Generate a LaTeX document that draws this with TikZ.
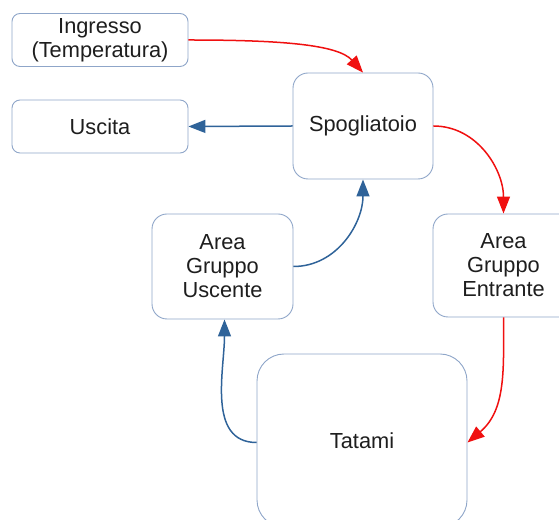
\documentclass[tikz,border=0pt]{standalone}
\usepackage{fontspec}
\setmainfont{Liberation Sans}
\usetikzlibrary{arrows.meta}
\definecolor{boxline}{HTML}{8FA6C9}
\definecolor{flowblue}{HTML}{2F6399}
\definecolor{flowred}{HTML}{F01010}
\definecolor{txt}{HTML}{1E1E1E}
\begin{document}
\begin{tikzpicture}[x=1pt,y=1pt,
  box/.style={draw=boxline, line width=0.9pt, fill=white, align=center, text=txt,
    font=\fontsize{21.8}{24}\selectfont, inner sep=0pt},
  redarr/.style={draw=flowred, line width=1.5pt, -{Triangle[length=17pt,width=13pt]}},
  bluearr/.style={draw=flowblue, line width=1.5pt, -{Triangle[length=17pt,width=13pt]}}]
\useasboundingbox (0,0) rectangle (559,519);
\clip (0,0) rectangle (559,519);
\node[box, rounded corners=8pt, minimum width=176pt, minimum height=53pt] (ing) at (100,479) {Ingresso\\(Temperatura)};
\node[box, rounded corners=8pt, minimum width=176pt, minimum height=53pt] (usc) at (100,392.5) {Uscita};
\node[box, rounded corners=15pt, minimum width=140pt, minimum height=106pt] (spo) at (363,393) {Spogliatoio};
\node[box, rounded corners=15pt, minimum width=141pt, minimum height=103pt] (ent) at (503.5,253.5) {Area\\Gruppo\\Entrante};
\node[box, rounded corners=15pt, minimum width=141pt, minimum height=105pt] (ausc) at (222.5,252.5) {Area\\Gruppo\\Uscente};
\node[box, rounded corners=27pt, minimum width=210pt, minimum height=173pt] (tat) at (362,78.5) {Tatami};
\draw[redarr] (ing.east) .. controls +(92,0) and +(-25,28) .. (spo.north);
\draw[bluearr] (spo.west) -- (usc.east);
\draw[redarr] (spo.east) to[out=0,in=90] (ent.north);
\draw[bluearr] (ausc.east) to[out=0,in=-90] (spo.south);
\draw[redarr] (ent.south) to[out=-90,in=40] ([yshift=-2pt]tat.east);
\draw[bluearr] ([yshift=-2pt]tat.west) to[out=180,in=-90] ([xshift=2pt]ausc.south);
\end{tikzpicture}
\end{document}
